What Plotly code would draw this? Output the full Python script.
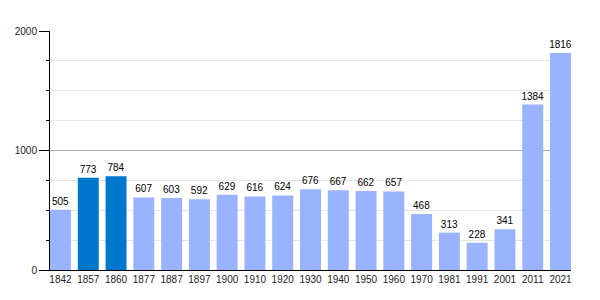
import plotly.graph_objects as go

years = ["1842", "1857", "1860", "1877", "1887", "1897", "1900", "1910", "1920", "1930",
         "1940", "1950", "1960", "1970", "1981", "1991", "2001", "2011", "2021"]
population = [505, 773, 784, 607, 603, 592, 629, 616, 624, 676,
              667, 662, 657, 468, 313, 228, 341, 1384, 1816]
highlight = ["1857", "1860"]

light = "#99b3ff"
dark = "#0077cc"
colors = [dark if y in highlight else light for y in years]

bar_w = 0.755
fig = go.Figure()
fig.add_trace(go.Bar(
    x=years, y=population,
    marker=dict(color=colors, line=dict(width=0)),
    text=[str(v) for v in population],
    textposition="outside",
    constraintext="none",
    textfont=dict(size=10, color="black", family="Liberation Sans, Arial, sans-serif"),
    cliponaxis=False,
    width=bar_w,
))

fig.update_layout(
    width=600, height=300,
    margin=dict(l=50, r=29, t=31, b=30),
    plot_bgcolor="white", paper_bgcolor="white",
    showlegend=False,
    font=dict(family="Liberation Sans, Arial, sans-serif", size=10, color="#222"),
)
fig.update_xaxes(
    type="category",
    range=[-bar_w / 2, len(years) - 1 + bar_w / 2],
    showline=True, linecolor="black", linewidth=1,
    ticks="", showgrid=False,
    tickfont=dict(size=10, color="#222"),
)
fig.update_yaxes(
    range=[0, 2000],
    tickvals=[0, 1000, 2000],
    ticks="outside", ticklen=10, tickcolor="black", tickwidth=1,
    showline=True, linecolor="black", linewidth=1,
    showgrid=True, gridcolor="#b0b0b0", gridwidth=1,
    zeroline=False,
    tickfont=dict(size=10, color="#222"),
    minor=dict(dtick=250, ticks="outside", ticklen=3, tickcolor="black",
               showgrid=True, gridcolor="#e6e6e6", gridwidth=1),
)

fig.write_html("out.html")
